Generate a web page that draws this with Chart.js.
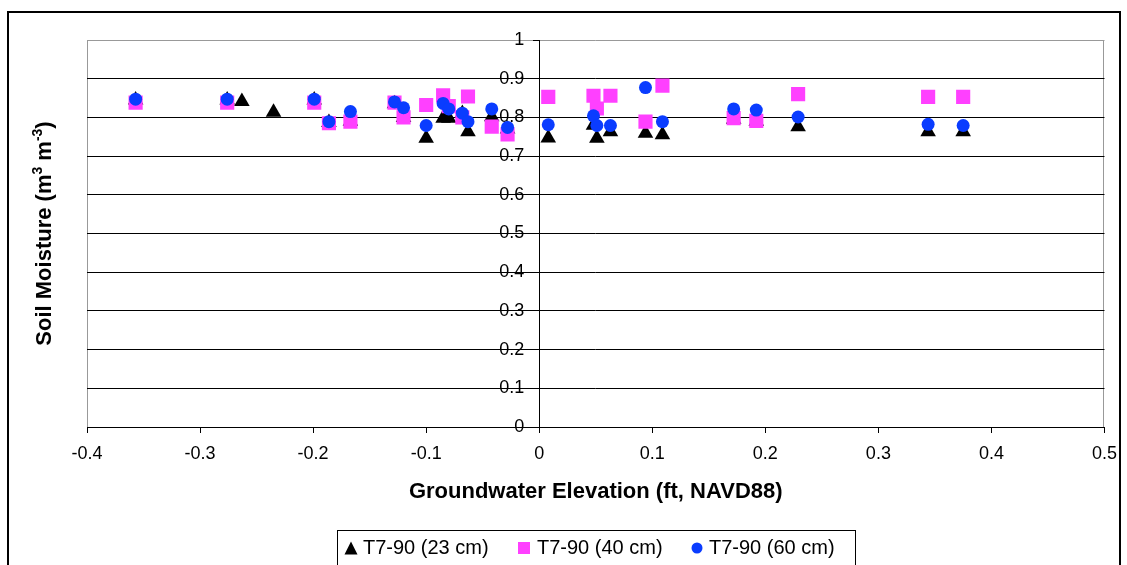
<!DOCTYPE html>
<html><head><meta charset="utf-8">
<script src="https://cdn.jsdelivr.net/npm/chart.js@4/dist/chart.umd.min.js"></script>
<style>html,body{margin:0;padding:0;background:#fff;}#wrap{position:relative;width:1127px;height:565px;overflow:hidden}</style>
</head><body><div id="wrap"><canvas id="c" width="1127" height="565"></canvas></div>
<script>
// ---- data ----
const groundwater = [-0.357, -0.276, -0.263, -0.235, -0.199, -0.186, -0.167, -0.128, -0.120, -0.100, -0.085, -0.080, -0.068, -0.063, -0.042, -0.028, 0.008, 0.048, 0.051, 0.063, 0.094, 0.109, 0.172, 0.192, 0.229, 0.344, 0.375];
const sm23cm = [0.845, 0.845, 0.841, 0.813, 0.845, 0.787, 0.790, 0.835, 0.800, 0.746, 0.798, 0.798, 0.810, 0.763, 0.802, 0.770, 0.747, 0.780, 0.746, 0.763, 0.759, 0.755, 0.795, 0.790, 0.776, 0.763, 0.763];
const sm40cm = [0.838, 0.838, null, null, 0.838, 0.785, 0.789, 0.838, 0.800, 0.832, 0.857, 0.829, 0.800, 0.854, 0.776, 0.756, 0.853, 0.856, 0.823, 0.856, 0.789, 0.882, 0.798, 0.791, 0.860, 0.853, 0.853];
const sm60cm = [0.847, 0.847, null, null, 0.847, 0.789, 0.815, 0.840, 0.825, 0.779, 0.836, 0.822, 0.811, 0.789, 0.822, 0.774, 0.781, 0.804, 0.779, 0.779, 0.877, 0.789, 0.822, 0.819, 0.801, 0.782, 0.779];
const seriesLabels = ['T7-90 (23 cm)', 'T7-90 (40 cm)', 'T7-90 (60 cm)'];
const xTicks = [-0.4, -0.3, -0.2, -0.1, 0, 0.1, 0.2, 0.3, 0.4, 0.5];
const yTicks = [0, 0.1, 0.2, 0.3, 0.4, 0.5, 0.6, 0.7, 0.8, 0.9, 1];
const xTitle = 'Groundwater Elevation (ft, NAVD88)';
const yTitleParts = [['Soil Moisture (m', false], ['3', true], [' m', false], ['-3', true], [')', false]];

const FONT = 'Liberation Sans, Arial, sans-serif';
const colors = ['#000000', '#ff40ff', '#0a3cff'];
const styles = ['triangle', 'rect', 'circle'];
const radii = [9, 10, 6.5];
const seriesValues = [sm23cm, sm40cm, sm60cm];

function pts(vals) {
  const out = [];
  groundwater.forEach((x, i) => { if (vals[i] !== null) out.push({x: x, y: vals[i]}); });
  return out;
}
function fmt(v) { return String(Math.round(v * 10) / 10); }

const datasets = seriesValues.map((vals, k) => ({
  label: seriesLabels[k],
  data: pts(vals),
  pointStyle: styles[k],
  pointRadius: radii[k],
  backgroundColor: colors[k],
  borderColor: colors[k],
  borderWidth: 0,
  showLine: false,
  order: 2 - k
}));

function drawMarker(ctx, style, x, y, size, color) {
  ctx.fillStyle = color;
  ctx.beginPath();
  if (style === 'triangle') {
    ctx.moveTo(x, y - size / 2); ctx.lineTo(x + size / 2, y + size / 2); ctx.lineTo(x - size / 2, y + size / 2);
    ctx.closePath();
  } else if (style === 'rect') {
    ctx.rect(x - size / 2, y - size / 2, size, size);
  } else {
    ctx.arc(x, y, size / 2, 0, Math.PI * 2);
  }
  ctx.fill();
}

const decor = {
  id: 'decor',
  beforeDraw(chart) {
    const ctx = chart.ctx, a = chart.chartArea;
    ctx.save();
    ctx.fillStyle = '#fff';
    ctx.fillRect(0, 0, chart.width, chart.height);
    ctx.strokeStyle = '#000'; ctx.lineWidth = 2;
    ctx.strokeRect(8, 12, 1112, 600);
    ctx.strokeStyle = '#999'; ctx.lineWidth = 1;
    ctx.beginPath();
    ctx.moveTo(Math.round(a.left) + 0.5, a.top); ctx.lineTo(Math.round(a.left) + 0.5, a.bottom);
    ctx.moveTo(Math.round(a.right) - 0.5, a.top); ctx.lineTo(Math.round(a.right) - 0.5, a.bottom);
    ctx.stroke();
    ctx.restore();
  },
  afterDraw(chart) {
    const ctx = chart.ctx, a = chart.chartArea;
    ctx.save();
    // y axis title with superscripts
    const big = 'bold 22px ' + FONT, small = 'bold 14px ' + FONT;
    let total = 0;
    yTitleParts.forEach(p => { ctx.font = p[1] ? small : big; total += ctx.measureText(p[0]).width; });
    ctx.translate(45, (a.top + a.bottom) / 2);
    ctx.rotate(-Math.PI / 2);
    ctx.fillStyle = '#000';
    ctx.textBaseline = 'middle';
    ctx.textAlign = 'left';
    let x = -total / 2;
    yTitleParts.forEach(p => {
      ctx.font = p[1] ? small : big;
      ctx.fillText(p[0], x, p[1] ? -7 : 0);
      x += ctx.measureText(p[0]).width;
    });
    ctx.restore();
    // legend
    ctx.save();
    ctx.strokeStyle = '#000'; ctx.lineWidth = 1;
    ctx.strokeRect(337.5, 530.5, 518, 60);
    const mx = [351, 524, 697], tx = [363, 537, 709], msz = [13, 12, 11];
    ctx.font = '20px ' + FONT; ctx.textBaseline = 'middle'; ctx.textAlign = 'left';
    seriesLabels.forEach((lab, k) => {
      drawMarker(ctx, styles[k], mx[k], 548, msz[k], colors[k]);
      ctx.fillStyle = '#000';
      ctx.fillText(lab, tx[k], 548);
    });
    ctx.restore();
  }
};

new Chart(document.getElementById('c'), {
  type: 'scatter',
  data: {datasets: datasets},
  options: {
    responsive: false,
    animation: false,
    devicePixelRatio: 1,
    events: [],
    layout: {padding: {left: 87, top: 40, right: 21, bottom: 0}},
    plugins: {legend: {display: false}, tooltip: {enabled: false}},
    scales: {
      x: {
        type: 'linear', position: 'bottom', min: -0.4, max: 0.5,
        afterBuildTicks: s => { s.ticks = xTicks.map(v => ({value: v})); },
        afterFit: s => { s.height = 138; },
        grid: {drawOnChartArea: false, drawTicks: true, tickLength: 6, color: '#000', tickColor: '#000'},
        border: {color: '#000', width: 1},
        ticks: {color: '#000', font: {family: FONT, size: 18}, padding: 10, maxRotation: 0, autoSkip: false, callback: v => fmt(v)},
        title: {display: true, text: xTitle, color: '#000', font: {family: FONT, size: 22, weight: 'bold'}, padding: {top: 0, bottom: 60}}
      },
      y: {
        type: 'linear', position: {x: 0}, min: 0, max: 1,
        afterBuildTicks: s => { s.ticks = yTicks.map(v => ({value: v})); },
        grid: {color: c => (c.tick && c.tick.value === 1) ? '#999' : '#000', tickColor: '#000', tickLength: 6, drawTicks: true},
        border: {color: '#000', width: 1},
        ticks: {color: '#000', font: {family: FONT, size: 18}, padding: 6, autoSkip: false, callback: v => fmt(v) + '   '}
      }
    }
  },
  plugins: [decor]
});
</script></body></html>
